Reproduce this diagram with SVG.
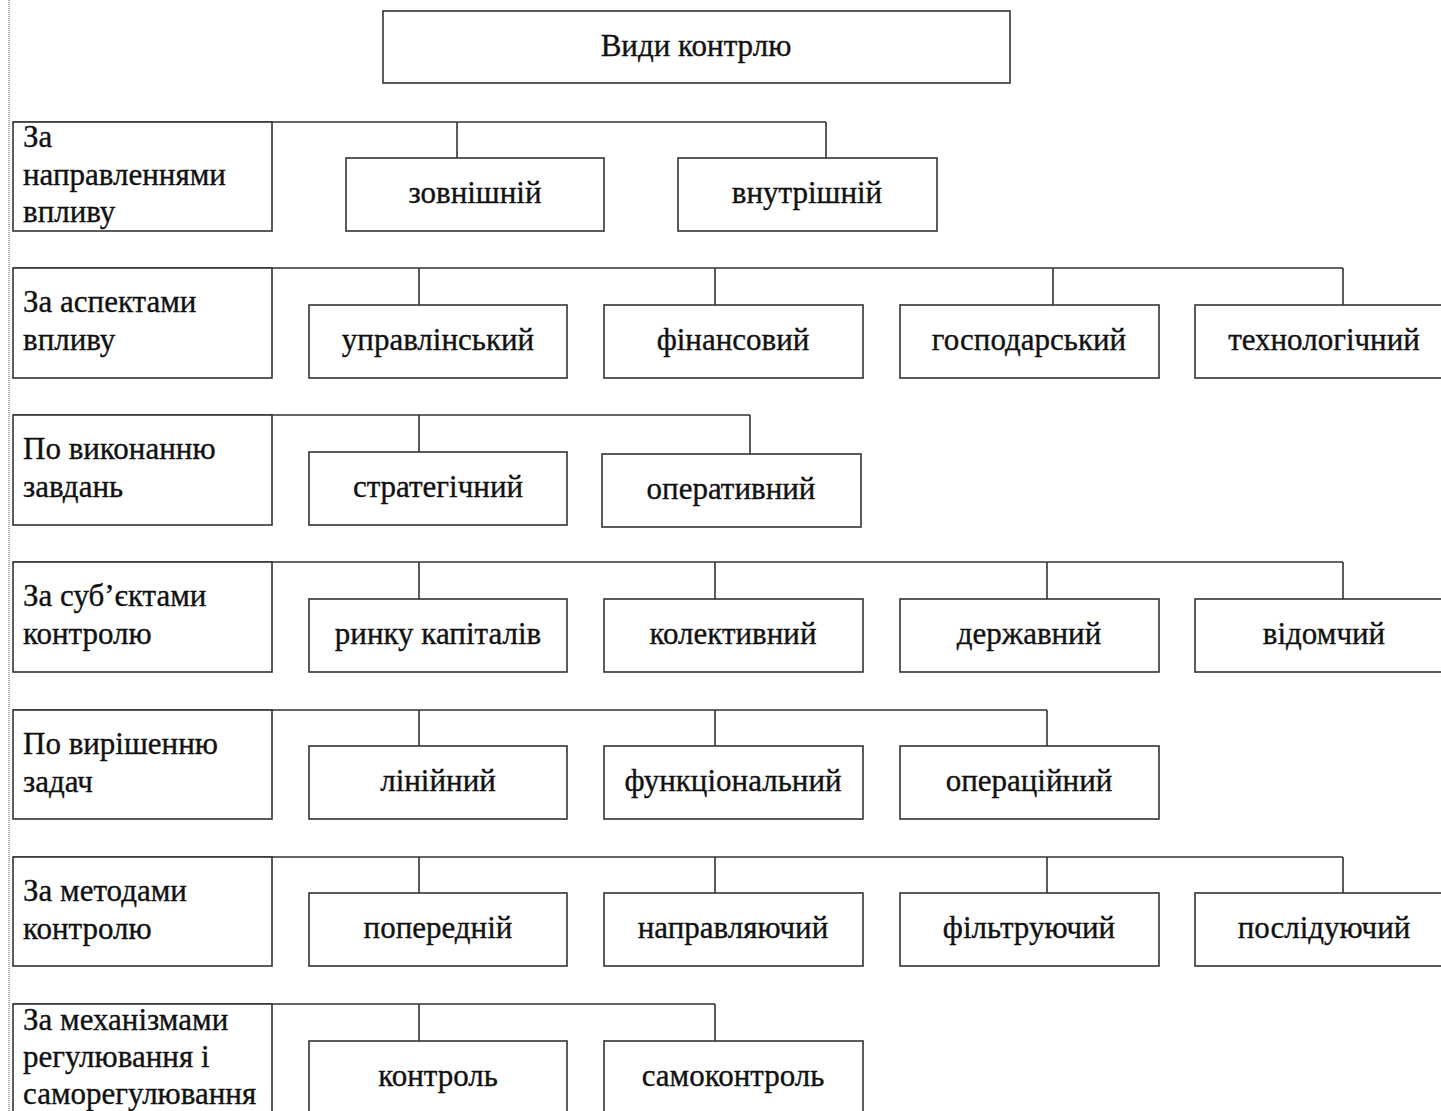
<svg xmlns="http://www.w3.org/2000/svg" width="1441" height="1111" viewBox="0 0 1441 1111">
<style>
.b{fill:#fff;stroke:#333;stroke-width:1.6}
.c{fill:none;stroke:#333;stroke-width:1.6}
text{font-family:"Liberation Serif","Times New Roman",serif;font-size:31px;fill:#111;stroke:#111;stroke-width:0.35}
.m{text-anchor:middle}
</style>
<rect width="1441" height="1111" fill="#fff"/>
<line x1="9" y1="0" x2="9" y2="1111" stroke="#555" stroke-width="1" stroke-dasharray="1,1"/>
<g id="connectors">
<path class="c" d="M13 122H826M457 122V158M826 122V158"/>
<path class="c" d="M13 268H1343M419 268V305M715 268V305M1053 268V305M1343 268V305"/>
<path class="c" d="M13 415H750M419 415V452M750 415V454"/>
<path class="c" d="M13 562H1343M419 562V599M715 562V599M1047 562V599M1343 562V599"/>
<path class="c" d="M13 710H1047M419 710V746M715 710V746M1047 710V746"/>
<path class="c" d="M13 857H1343M419 857V893M715 857V893M1047 857V893M1343 857V893"/>
<path class="c" d="M13 1004H715M419 1004V1041M715 1004V1041"/>
</g>
<g id="root"><rect class="b" x="383" y="11" width="627" height="72"/><text class="m" x="696" y="56">Види контрлю</text></g>

<g id="cat1"><rect class="b" x="13" y="122" width="259" height="109"/><text x="23" y="147">За</text><text x="23" y="185">направленнями</text><text x="23" y="222">впливу</text></g>
<g id="n1a"><rect class="b" x="346" y="158" width="258" height="73"/><text class="m" x="475" y="203">зовнішній</text></g>
<g id="n1b"><rect class="b" x="678" y="158" width="259" height="73"/><text class="m" x="807" y="203">внутрішній</text></g>

<g id="cat2"><rect class="b" x="13" y="268" width="259" height="110"/><text x="23" y="312">За аспектами</text><text x="23" y="350">впливу</text></g>
<g id="n2a"><rect class="b" x="309" y="305" width="258" height="73"/><text class="m" x="438" y="350">управлінський</text></g>
<g id="n2b"><rect class="b" x="604" y="305" width="259" height="73"/><text class="m" x="733" y="350">фінансовий</text></g>
<g id="n2c"><rect class="b" x="900" y="305" width="259" height="73"/><text class="m" x="1029" y="350">господарський</text></g>
<g id="n2d"><rect class="b" x="1195" y="305" width="259" height="73"/><text class="m" x="1324" y="350">технологічний</text></g>

<g id="cat3"><rect class="b" x="13" y="415" width="259" height="110"/><text x="23" y="459">По виконанню</text><text x="23" y="497">завдань</text></g>
<g id="n3a"><rect class="b" x="309" y="452" width="258" height="73"/><text class="m" x="438" y="497">стратегічний</text></g>
<g id="n3b"><rect class="b" x="602" y="454" width="259" height="73"/><text class="m" x="731" y="499">оперативний</text></g>

<g id="cat4"><rect class="b" x="13" y="562" width="259" height="110"/><text x="23" y="606">За суб’єктами</text><text x="23" y="644">контролю</text></g>
<g id="n4a"><rect class="b" x="309" y="599" width="258" height="73"/><text class="m" x="438" y="644">ринку капіталів</text></g>
<g id="n4b"><rect class="b" x="604" y="599" width="259" height="73"/><text class="m" x="733" y="644">колективний</text></g>
<g id="n4c"><rect class="b" x="900" y="599" width="259" height="73"/><text class="m" x="1029" y="644">державний</text></g>
<g id="n4d"><rect class="b" x="1195" y="599" width="259" height="73"/><text class="m" x="1324" y="644">відомчий</text></g>

<g id="cat5"><rect class="b" x="13" y="710" width="259" height="109"/><text x="23" y="754">По вирішенню</text><text x="23" y="792">задач</text></g>
<g id="n5a"><rect class="b" x="309" y="746" width="258" height="73"/><text class="m" x="438" y="791">лінійний</text></g>
<g id="n5b"><rect class="b" x="604" y="746" width="259" height="73"/><text class="m" x="733" y="791">функціональний</text></g>
<g id="n5c"><rect class="b" x="900" y="746" width="259" height="73"/><text class="m" x="1029" y="791">операційний</text></g>

<g id="cat6"><rect class="b" x="13" y="857" width="259" height="109"/><text x="23" y="901">За методами</text><text x="23" y="939">контролю</text></g>
<g id="n6a"><rect class="b" x="309" y="893" width="258" height="73"/><text class="m" x="438" y="938">попередній</text></g>
<g id="n6b"><rect class="b" x="604" y="893" width="259" height="73"/><text class="m" x="733" y="938">направляючий</text></g>
<g id="n6c"><rect class="b" x="900" y="893" width="259" height="73"/><text class="m" x="1029" y="938">фільтруючий</text></g>
<g id="n6d"><rect class="b" x="1195" y="893" width="259" height="73"/><text class="m" x="1324" y="938">послідуючий</text></g>

<g id="cat7"><rect class="b" x="13" y="1004" width="259" height="120"/><text x="23" y="1030">За механізмами</text><text x="23" y="1067">регулювання і</text><text x="23" y="1104">саморегулювання</text></g>
<g id="n7a"><rect class="b" x="309" y="1041" width="258" height="80"/><text class="m" x="438" y="1086">контроль</text></g>
<g id="n7b"><rect class="b" x="604" y="1041" width="259" height="80"/><text class="m" x="733" y="1086">самоконтроль</text></g>
</svg>
